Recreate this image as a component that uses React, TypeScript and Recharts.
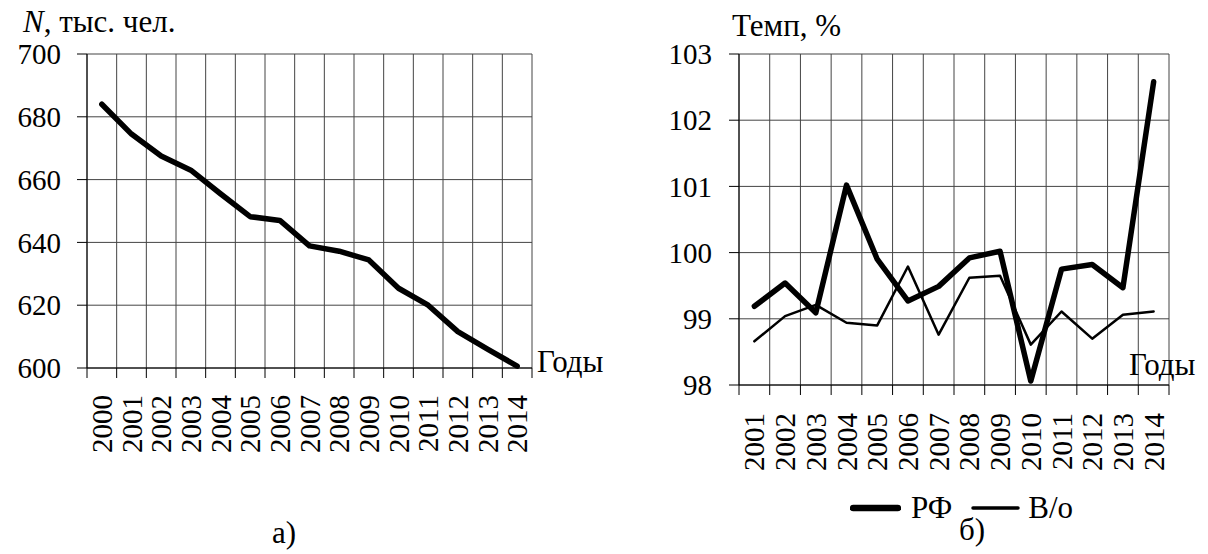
import React from 'react'
import { LineChart, Line, XAxis, YAxis, CartesianGrid, Legend } from 'recharts'

const FONT = "'Liberation Serif', 'Nimbus Roman', 'DejaVu Serif', serif"

// а) численность населения, тыс. чел.
const YEARS_A = ['2000', '2001', '2002', '2003', '2004', '2005', '2006', '2007', '2008', '2009', '2010', '2011', '2012', '2013', '2014']
const POPULATION = [684, 674.5, 667.5, 663, 655.5, 648.2, 647, 638.9, 637.2, 634.4, 625.4, 620, 611.6, 606, 600.6]
const TICKS_A = [600, 620, 640, 660, 680, 700]

// б) темп, %
const YEARS_B = ['2001', '2002', '2003', '2004', '2005', '2006', '2007', '2008', '2009', '2010', '2011', '2012', '2013', '2014']
const RF = [99.19, 99.54, 99.09, 101.02, 99.9, 99.27, 99.49, 99.92, 100.02, 98.06, 99.75, 99.82, 99.47, 102.58]
const VO = [98.66, 99.04, 99.21, 98.94, 98.9, 99.79, 98.76, 99.62, 99.65, 98.61, 99.11, 98.7, 99.06, 99.11]
const TICKS_B = [98, 99, 100, 101, 102, 103]

const SERIES_B = [
  { key: 'rf', name: 'РФ', width: 5.5 },
  { key: 'vo', name: 'В/о', width: 2.5 },
]

const dataA = YEARS_A.map((year, i) => ({ year, n: POPULATION[i] }))
const dataB = YEARS_B.map((year, i) => ({ year, rf: RF[i], vo: VO[i] }))

// vertical grid lines sit between the years, on the band edges
const bandEdges = (count: number) => (props: any) => {
  const { left, width } = props.offset
  return Array.from({ length: count + 1 }, (_, i) => left + (i * width) / count)
}

function YearTick({ x, y, payload, index, gap, bw, count }: any) {
  const axisY = y - gap
  return (
    <g>
      <line x1={x - bw / 2} y1={axisY} x2={x - bw / 2} y2={axisY + 10} stroke="#000" />
      {index === count - 1 && <line x1={x + bw / 2} y1={axisY} x2={x + bw / 2} y2={axisY + 10} stroke="#000" />}
      <text
        x={x}
        y={y}
        transform={`rotate(-90, ${x}, ${y})`}
        textAnchor="end"
        dominantBaseline="central"
        fontSize={29}
        fontFamily={FONT}
        fill="#000"
      >
        {payload.value}
      </text>
    </g>
  )
}

function LegendB() {
  return (
    <div style={{ display: 'flex', alignItems: 'center', height: 32, fontFamily: FONT, fontSize: 31, lineHeight: '32px', whiteSpace: 'nowrap' }}>
      {SERIES_B.map((s, i) => (
        <React.Fragment key={s.key}>
          <svg width={51} height={10} style={{ marginLeft: i === 0 ? 0 : 18, marginRight: i === 0 ? 10 : 7 }}>
            <line x1={3} y1={5} x2={48} y2={5} stroke="#000" strokeWidth={s.width + 1} strokeLinecap="round" />
          </svg>
          <span>{s.name}</span>
        </React.Fragment>
      ))}
    </div>
  )
}

const textStyle: React.CSSProperties = {
  position: 'absolute',
  fontFamily: FONT,
  fontSize: 31,
  lineHeight: '20px',
  whiteSpace: 'nowrap',
  color: '#000',
}

// plot boxes (left, right margins) of the two panels
const A = { width: 600, yAxis: 87, right: 68 }
const B = { width: 608, yAxis: 139, right: 39 }

export default function App() {
  const tickStyle = { fill: '#000', fontSize: 29, fontFamily: FONT }
  const bwA = (A.width - A.yAxis - A.right) / YEARS_A.length
  const bwB = (B.width - B.yAxis - B.right) / YEARS_B.length
  return (
    <div style={{ position: 'absolute', left: 0, top: 0, width: 1208, height: 554, background: '#fff', fontFamily: FONT }}>
      <div style={{ position: 'absolute', left: 0, top: 0 }}>
        <LineChart width={A.width} height={554} data={dataA} margin={{ top: 54, right: A.right, bottom: 0, left: 0 }}>
          <CartesianGrid stroke="#444" strokeWidth={1} verticalCoordinatesGenerator={bandEdges(YEARS_A.length)} />
          <XAxis
            dataKey="year"
            scale="band"
            interval={0}
            stroke="#000"
            tickLine={false}
            tickSize={0}
            tickMargin={27}
            height={186}
            tick={<YearTick gap={27} bw={bwA} count={YEARS_A.length} />}
          />
          <YAxis
            domain={[600, 700]}
            ticks={TICKS_A}
            width={A.yAxis}
            tickSize={10}
            tickMargin={16}
            stroke="#000"
            tick={tickStyle}
          />
          <Line
            dataKey="n"
            stroke="#000"
            strokeWidth={5.5}
            dot={false}
            strokeLinecap="round"
            strokeLinejoin="round"
            isAnimationActive={false}
          />
        </LineChart>
      </div>

      <div style={{ position: 'absolute', left: 600, top: 0 }}>
        <LineChart width={B.width} height={554} data={dataB} margin={{ top: 54, right: B.right, bottom: 0, left: 0 }}>
          <CartesianGrid stroke="#444" strokeWidth={1} verticalCoordinatesGenerator={bandEdges(YEARS_B.length)} />
          <XAxis
            dataKey="year"
            scale="band"
            interval={0}
            stroke="#000"
            tickLine={false}
            tickSize={0}
            tickMargin={28}
            height={169}
            tick={<YearTick gap={28} bw={bwB} count={YEARS_B.length} />}
          />
          <YAxis
            domain={[98, 103]}
            ticks={TICKS_B}
            width={B.yAxis}
            tickSize={10}
            tickMargin={17}
            stroke="#000"
            tick={tickStyle}
          />
          {SERIES_B.map((s) => (
            <Line
              key={s.key}
              dataKey={s.key}
              name={s.name}
              stroke="#000"
              strokeWidth={s.width}
              dot={false}
              strokeLinecap="round"
              strokeLinejoin="round"
              isAnimationActive={false}
            />
          ))}
          <Legend
            verticalAlign="middle"
            align="center"
            layout="horizontal"
            wrapperStyle={{ left: 250, top: 492, width: 240, height: 32 }}
            content={<LegendB />}
          />
        </LineChart>
      </div>

      <div style={{ ...textStyle, left: 23, top: 12 }}>
        <i>N</i>, тыс. чел.
      </div>
      <div style={{ ...textStyle, left: 537, top: 352 }}>Годы</div>
      <div style={{ ...textStyle, left: 272, top: 523 }}>а)</div>

      <div style={{ ...textStyle, left: 732, top: 16 }}>Темп, %</div>
      <div style={{ ...textStyle, left: 1129, top: 355 }}>Годы</div>
      <div style={{ ...textStyle, left: 959, top: 520 }}>б)</div>
    </div>
  )
}
